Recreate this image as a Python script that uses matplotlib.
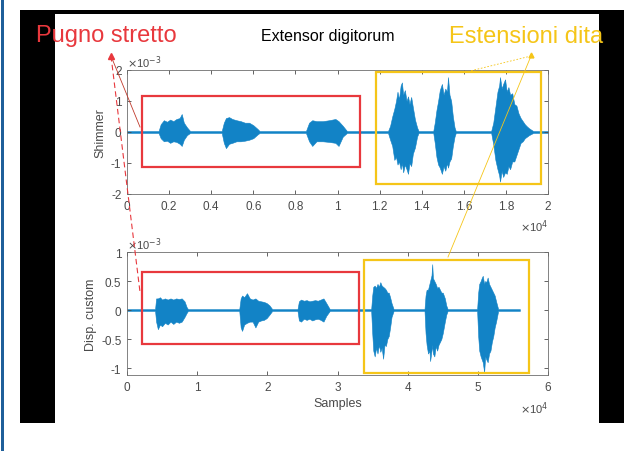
import numpy as np
import matplotlib
matplotlib.use("Agg")
import matplotlib.pyplot as plt
from matplotlib.patches import Rectangle
from matplotlib.lines import Line2D

plt.rcParams["font.family"] = ["Liberation Sans", "DejaVu Sans"]

W, H = 633, 452

# envelope of the top signal (samples, x1e-3)
shim_x = [0, 1500, 1600, 1750, 1900, 2050, 2200, 2350, 2500, 2600, 2700, 2850, 3000,
          4500, 4600, 4700, 4850, 5000, 5200, 5400, 5600, 5800, 6000, 6200, 6300,
          8500, 8650, 8800, 9000, 9300, 9600, 9900, 10050, 10250, 10450,
          12400, 12500, 12600, 12700, 12780, 12850, 12920, 13000, 13060, 13120, 13200,
          13280, 13350, 13420, 13500, 13580, 13680, 13780, 13850,
          14550, 14620, 14700, 14780, 14860, 14960, 15040, 15120, 15200, 15250, 15320,
          15400, 15480, 15560, 15620,
          17300, 17400, 17500, 17600, 17680, 17720, 17800, 17870, 17960, 18040, 18120,
          18200, 18300, 18400, 18500, 18600, 18700, 18800, 18900, 19000, 19100, 19300,
          20000]
shim_hi = [0.03, 0.03, 0.25, 0.38, 0.33, 0.40, 0.35, 0.42, 0.45, 0.58, 0.30, 0.15, 0.03,
           0.03, 0.30, 0.45, 0.48, 0.42, 0.38, 0.35, 0.30, 0.30, 0.22, 0.10, 0.03,
           0.03, 0.30, 0.38, 0.35, 0.35, 0.38, 0.42, 0.35, 0.20, 0.03,
           0.03, 0.20, 0.50, 0.75, 1.00, 1.30, 1.05, 1.50, 1.60, 1.20, 1.35,
           1.00, 1.15, 0.90, 1.13, 0.80, 0.40, 0.15, 0.03,
           0.03, 0.30, 0.70, 1.00, 1.35, 1.55, 1.20, 1.40, 1.30, 1.77, 1.20,
           1.00, 0.50, 0.15, 0.03,
           0.03, 0.30, 0.80, 1.30, 1.50, 1.77, 1.40, 1.55, 1.70, 1.30, 1.45,
           1.20, 1.25, 0.90, 0.85, 0.60, 0.45, 0.35, 0.25, 0.18, 0.12, 0.03,
           0.03]
shim_lo = [-0.03, -0.03, -0.20, -0.30, -0.28, -0.35, -0.30, -0.32, -0.38, -0.45, -0.25, -0.10, -0.03,
           -0.03, -0.35, -0.52, -0.38, -0.35, -0.30, -0.30, -0.28, -0.25, -0.20, -0.08, -0.03,
           -0.03, -0.30, -0.45, -0.30, -0.30, -0.32, -0.35, -0.45, -0.15, -0.03,
           -0.03, -0.25, -0.45, -0.90, -0.80, -1.05, -0.95, -1.20, -1.00, -1.30, -1.05,
           -1.20, -1.35, -1.00, -1.10, -0.70, -0.50, -0.15, -0.03,
           -0.03, -0.35, -0.80, -1.05, -1.15, -1.35, -1.10, -1.25, -1.00, -1.15, -0.95,
           -0.85, -0.45, -0.15, -0.03,
           -0.03, -0.40, -0.90, -1.20, -1.40, -1.60, -1.25, -1.45, -1.30, -1.35, -1.10,
           -1.20, -0.95, -0.95, -0.75, -0.55, -0.35, -0.30, -0.20, -0.15, -0.10, -0.03,
           -0.03]

# envelope of the bottom signal (samples, x1e-3)
disp_x = [0, 4000, 4150, 4400, 4700, 5000, 5400, 5800, 6200, 6600, 7000, 7400, 7800, 8200, 8500, 8700,
          16000, 16200, 16400, 16700, 17100, 17500, 17900, 18300, 18700, 19100, 19500, 19900, 20300, 20700,
          24300, 24500, 24800, 25200, 25600, 26000, 26400, 26800, 27200, 27600, 28000, 28400, 28900,
          34800, 34950, 35100, 35300, 35500, 35700, 35900, 36100, 36300, 36500, 36700, 36900,
          37100, 37300, 37500, 37700, 38000,
          42400, 42550, 42700, 42900, 43100, 43200, 43400, 43500, 43600, 43800, 44000, 44200,
          44400, 44600, 44800, 45000, 45300, 45500, 45700,
          49900, 50050, 50200, 50400, 50550, 50700, 50900, 51050, 51200, 51400, 51600, 51800,
          52000, 52200, 52400, 52600, 52900, 56000]
disp_hi = [0.015, 0.015, 0.20, 0.20, 0.22, 0.18, 0.20, 0.18, 0.20, 0.18, 0.20, 0.19, 0.20, 0.15, 0.05, 0.015,
           0.015, 0.20, 0.25, 0.22, 0.29, 0.20, 0.18, 0.20, 0.16, 0.15, 0.14, 0.12, 0.08, 0.015,
           0.015, 0.15, 0.18, 0.16, 0.17, 0.15, 0.16, 0.17, 0.16, 0.18, 0.20, 0.12, 0.015,
           0.015, 0.25, 0.40, 0.42, 0.38, 0.45, 0.40, 0.48, 0.42, 0.40, 0.38, 0.35,
           0.30, 0.30, 0.22, 0.12, 0.015,
           0.015, 0.25, 0.35, 0.35, 0.45, 0.50, 0.60, 0.79, 0.55, 0.50, 0.45, 0.38,
           0.40, 0.35, 0.30, 0.30, 0.20, 0.08, 0.015,
           0.015, 0.30, 0.45, 0.50, 0.55, 0.59, 0.45, 0.50, 0.48, 0.56, 0.45, 0.40,
           0.35, 0.30, 0.25, 0.15, 0.015, 0.015]
disp_lo = [-0.015, -0.015, -0.20, -0.33, -0.25, -0.28, -0.22, -0.25, -0.20, -0.24, -0.20, -0.22, -0.20, -0.12, -0.05, -0.015,
           -0.015, -0.30, -0.36, -0.25, -0.22, -0.20, -0.20, -0.30, -0.20, -0.18, -0.17, -0.14, -0.08, -0.015,
           -0.015, -0.18, -0.20, -0.15, -0.17, -0.15, -0.18, -0.16, -0.15, -0.17, -0.20, -0.10, -0.015,
           -0.015, -0.40, -0.70, -0.80, -0.65, -0.75, -0.60, -0.72, -0.65, -0.84, -0.60, -0.62,
           -0.50, -0.45, -0.30, -0.12, -0.015,
           -0.015, -0.40, -0.60, -0.75, -0.70, -0.88, -0.70, -0.60, -0.75, -0.80, -0.62, -0.70,
           -0.60, -0.55, -0.50, -0.40, -0.20, -0.08, -0.015,
           -0.015, -0.45, -0.70, -0.80, -0.85, -0.90, -1.07, -0.80, -0.85, -0.90, -0.75, -0.70,
           -0.55, -0.45, -0.30, -0.20, -0.015, -0.015]

# highlight boxes: (x0, x1, y0, y1) in samples / x1e-3
shim_red_box = (710, 11070, -1.13, 1.16)
shim_yellow_box = (11830, 19670, -1.68, 1.94)
disp_red_box = (2140, 33100, -0.59, 0.655)
disp_yellow_box = (33800, 57300, -1.09, 0.86)

top_xticks = [0, 0.2, 0.4, 0.6, 0.8, 1, 1.2, 1.4, 1.6, 1.8, 2]
top_yticks = [-2, -1, 0, 1, 2]
bot_xticks = [0, 1, 2, 3, 4, 5, 6]
bot_yticks = [-1, -0.5, 0, 0.5, 1]

SIG = "#1283c6"
RED = "#e8383d"
YEL = "#f5c518"
GRAY = "#4a4a4a"


def fx(x):
    return x / W


def fy(y):
    return 1 - y / H


def style_axes(ax, xticks, yticks):
    ax.set_xticks(xticks)
    ax.set_yticks(yticks)
    ax.set_xticklabels([f"{t:g}" for t in xticks])
    ax.set_yticklabels([f"{t:g}" for t in yticks])
    ax.tick_params(direction="in", length=3, width=0.6, colors=GRAY,
                   labelsize=8.5, top=True, right=True, pad=4)
    for s in ax.spines.values():
        s.set_color("#6e6e6e")
        s.set_linewidth(0.6)


def add_box(ax, box, color, scale):
    x0, x1, y0, y1 = box
    ax.add_patch(Rectangle((x0 / scale, y0), (x1 - x0) / scale, y1 - y0,
                           fill=False, edgecolor=color, linewidth=1.6,
                           clip_on=False, zorder=5))


fig = plt.figure(figsize=(W / 100, H / 100), dpi=100)

# slide frame (behind the axes)
fig.add_artist(Rectangle((fx(1), 0), 3 / W, 1, transform=fig.transFigure,
                         facecolor="#1f5f9a", edgecolor="none", zorder=-3))
fig.add_artist(Rectangle((fx(20), fy(424)), 604 / W, 413 / H, transform=fig.transFigure,
                         facecolor="black", edgecolor="none", zorder=-2))
fig.add_artist(Rectangle((fx(55), fy(424)), 544 / W, 409 / H, transform=fig.transFigure,
                         facecolor="white", edgecolor="none", zorder=-1))

ax1 = fig.add_axes([fx(127), fy(195), 421 / W, 124 / H])
ax1.fill_between(np.array(shim_x) / 1e4, shim_lo, shim_hi, color=SIG, linewidth=0.4,
                 edgecolor=SIG)
ax1.set_xlim(0, 2)
ax1.set_ylim(-2, 2)
style_axes(ax1, top_xticks, top_yticks)
ax1.set_ylabel("Shimmer", fontsize=9, color=GRAY, labelpad=3)
add_box(ax1, shim_red_box, RED, 1e4)
add_box(ax1, shim_yellow_box, YEL, 1e4)

ax2 = fig.add_axes([fx(127), fy(376), 421 / W, 123 / H])
ax2.fill_between(np.array(disp_x) / 1e4, disp_lo, disp_hi, color=SIG, linewidth=0.4,
                 edgecolor=SIG)
ax2.set_xlim(0, 6)
ax2.set_ylim(-1.12, 1)
style_axes(ax2, bot_xticks, bot_yticks)
ax2.set_ylabel("Disp. custom", fontsize=9, color=GRAY, labelpad=3)
ax2.set_xlabel("Samples", fontsize=9, color=GRAY, labelpad=3)
add_box(ax2, disp_red_box, RED, 1e4)
add_box(ax2, disp_yellow_box, YEL, 1e4)

# exponent labels
fig.text(fx(127), fy(63), r"$\times$10$^{-3}$", fontsize=8, color=GRAY, va="center")
fig.text(fx(127), fy(245), r"$\times$10$^{-3}$", fontsize=8, color=GRAY, va="center")
fig.text(fx(548), fy(227), r"$\times$10$^{4}$", fontsize=8, color=GRAY, va="center", ha="right")
fig.text(fx(548), fy(409), r"$\times$10$^{4}$", fontsize=8, color=GRAY, va="center", ha="right")

fig.text(fx(328), fy(36), "Extensor digitorum", fontsize=11.5, color="black",
         ha="center", va="center")
fig.text(fx(36), fy(36), "Pugno stretto", fontsize=17, color=RED, ha="left", va="center")
fig.text(fx(449), fy(37), "Estensioni dita", fontsize=17, color=YEL, ha="left", va="center")

# pointer lines from boxes to labels
fig.add_artist(Line2D([fx(111), fx(140)], [fy(57), fy(128)], transform=fig.transFigure,
                      color="#c0392b", linewidth=0.6, zorder=10))
fig.add_artist(Line2D([fx(111), fx(140)], [fy(57), fy(293)], transform=fig.transFigure,
                      color=RED, linewidth=0.8, linestyle=(0, (5, 3)), zorder=10))
fig.add_artist(Line2D([fx(111)], [fy(57)], transform=fig.transFigure, color=RED,
                      marker="^", markersize=4, linestyle="none", zorder=10))
fig.add_artist(Line2D([fx(531), fx(470)], [fy(57), fy(72)], transform=fig.transFigure,
                      color=YEL, linewidth=0.6, linestyle=(0, (2, 2)), zorder=10))
fig.add_artist(Line2D([fx(531), fx(448)], [fy(57), fy(258)], transform=fig.transFigure,
                      color=YEL, linewidth=0.6, zorder=10))
fig.add_artist(Line2D([fx(531)], [fy(56)], transform=fig.transFigure, color=YEL,
                      marker="^", markersize=3.5, linestyle="none", zorder=10))

fig.savefig("out.png", dpi=100)
